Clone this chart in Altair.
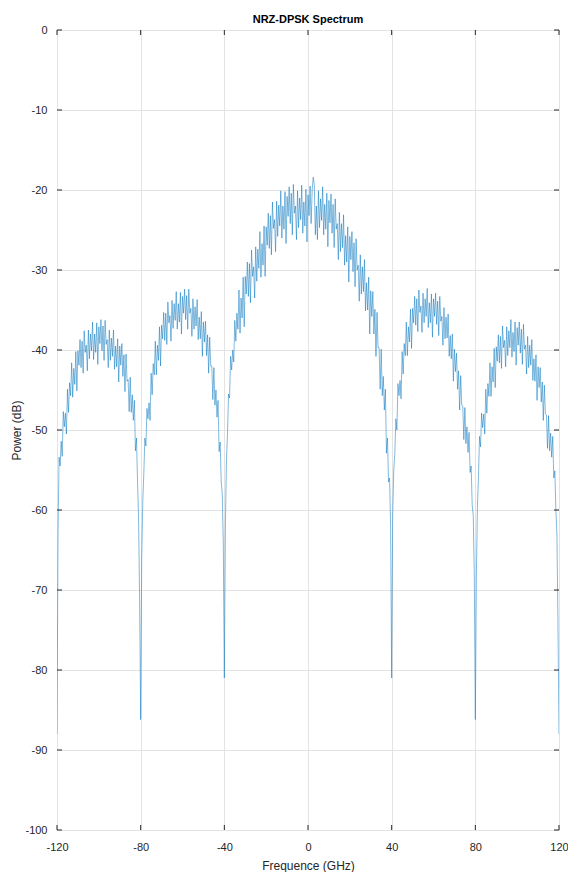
import altair as alt
import pandas as pd

# Power spectral density of an NRZ-DPSK signal, sampled every 0.5 GHz from -120 to 120 GHz.
freq_ghz = [(-240 + i) / 2 for i in range(481)]

# -120.0 ... -80.5 GHz (outer left sidelobe)
power_lobe_m2 = [
    -88.0, -62.5, -53.4, -54.5, -51.4, -53.3, -47.7, -49.6, -47.9, -50.5,
    -44.9, -47.8, -44.1, -45.7, -41.6, -45.9, -42.3, -44.3, -40.2, -45.1,
    -40.1, -41.9, -38.7, -42.2, -38.9, -42.9, -37.6, -40.3, -39.4, -42.6,
    -37.5, -41.1, -38.0, -40.1, -36.5, -41.2, -38.0, -40.3, -36.6, -41.8,
    -37.1, -39.2, -36.2, -40.1, -37.0, -41.3, -36.3, -39.3, -38.7, -42.2,
    -37.5, -41.3, -38.5, -40.8, -37.5, -42.4, -39.5, -42.1, -38.6, -44.0,
    -39.5, -41.9, -39.2, -43.3, -40.6, -45.2, -40.5, -43.9, -43.7, -47.7,
    -43.4, -47.8, -45.6, -48.8, -46.3, -52.6, -51.0, -56.4, -61.0, -71.0,
]
# -80.0 ... -40.5 GHz (first left sidelobe)
power_lobe_m1 = [
    -86.2, -66.0, -59.0, -55.5, -51.0, -52.0, -47.3, -48.6, -46.6, -48.8,
    -42.9, -45.6, -41.7, -43.1, -38.9, -43.1, -39.4, -41.3, -37.1, -42.0,
    -36.9, -38.6, -35.3, -38.8, -35.4, -39.3, -34.0, -36.6, -35.7, -38.9,
    -33.8, -37.3, -34.2, -36.3, -32.7, -37.4, -34.2, -36.5, -32.8, -38.0,
    -33.3, -35.4, -32.4, -36.2, -33.2, -37.4, -32.4, -35.4, -34.8, -38.3,
    -33.6, -37.4, -34.6, -37.0, -33.7, -38.7, -35.9, -38.6, -35.2, -40.8,
    -36.5, -39.0, -36.4, -40.7, -38.1, -42.9, -38.4, -42.0, -42.0, -46.2,
    -42.2, -46.9, -45.0, -48.4, -46.3, -52.7, -51.5, -56.4, -58.0, -64.0,
]
# -40.0 ... 39.5 GHz (main lobe)
power_main = [
    -81.0, -62.0, -54.0, -50.5, -45.5, -46.0, -40.8, -42.5, -40.0, -41.5,
    -36.3, -38.9, -35.4, -37.4, -32.5, -37.9, -33.5, -36.0, -30.9, -37.1,
    -30.8, -33.0, -29.0, -33.3, -29.2, -34.1, -27.5, -30.8, -29.6, -33.5,
    -27.1, -31.4, -27.4, -29.8, -25.2, -30.9, -26.7, -29.4, -24.5, -30.8,
    -24.6, -26.9, -22.9, -27.3, -23.2, -28.1, -21.5, -24.8, -23.7, -27.7,
    -21.4, -25.8, -21.9, -24.5, -20.1, -26.0, -22.0, -24.9, -20.2, -26.7,
    -20.8, -23.3, -19.6, -24.2, -20.4, -25.6, -19.3, -22.9, -22.0, -26.2,
    -20.1, -24.7, -21.0, -23.7, -19.4, -25.4, -21.5, -24.5, -19.9, -26.5,
    -20.6, -23.2, -19.5, -24.2, -20.0, -18.4, -19.3, -25.6, -22.0, -26.2,
    -20.1, -24.7, -21.1, -23.8, -19.6, -25.6, -21.8, -24.9, -20.4, -27.1,
    -21.3, -24.1, -20.5, -25.4, -21.8, -27.2, -21.1, -24.9, -24.2, -28.7,
    -22.8, -27.7, -24.2, -27.2, -23.1, -29.4, -25.7, -29.0, -24.6, -31.5,
    -25.8, -28.7, -25.2, -30.2, -26.6, -32.1, -26.1, -30.0, -29.4, -33.9,
    -28.1, -33.0, -29.6, -32.7, -28.7, -35.1, -31.6, -35.0, -30.9, -38.0,
    -32.6, -35.8, -32.7, -38.0, -34.9, -40.8, -35.3, -39.7, -39.7, -44.9,
    -39.9, -45.7, -43.3, -47.5, -44.9, -52.9, -51.0, -56.5, -56.0, -62.0,
]
# 40.0 ... 79.5 GHz (first right sidelobe)
power_lobe_p1 = [
    -81.0, -60.5, -55.0, -53.0, -48.6, -50.0, -44.2, -45.7, -43.8, -46.1,
    -40.2, -43.0, -39.2, -40.7, -36.5, -40.7, -37.1, -39.0, -34.9, -39.8,
    -34.8, -36.6, -33.3, -36.9, -33.6, -37.7, -32.5, -35.3, -34.5, -37.8,
    -32.9, -36.6, -33.6, -35.8, -32.3, -37.2, -34.1, -36.6, -33.0, -38.4,
    -33.6, -35.8, -32.9, -36.8, -33.9, -38.2, -33.3, -36.4, -35.8, -39.4,
    -34.7, -38.6, -35.9, -38.5, -35.5, -40.8, -38.2, -41.1, -38.0, -43.9,
    -39.9, -42.7, -40.4, -44.9, -42.6, -47.5, -43.2, -46.9, -47.0, -51.2,
    -47.2, -51.7, -49.6, -52.8, -50.3, -55.3, -54.5, -59.4, -60.7, -68.0,
]
# 80.0 ... 120.0 GHz (outer right sidelobe)
power_lobe_p2 = [
    -86.2, -68.0, -59.5, -55.8, -50.8, -52.1, -47.9, -49.7, -48.0, -50.5,
    -44.9, -47.9, -44.2, -45.8, -41.6, -45.8, -42.1, -44.0, -39.8, -44.7,
    -39.6, -41.4, -38.1, -41.6, -38.3, -42.3, -37.0, -39.7, -38.8, -42.1,
    -37.1, -40.7, -37.6, -39.7, -36.2, -40.9, -37.8, -40.2, -36.5, -41.9,
    -37.2, -39.4, -36.5, -40.4, -37.4, -41.8, -36.8, -39.9, -39.4, -43.0,
    -38.3, -42.2, -39.4, -41.9, -38.7, -43.8, -41.1, -43.9, -40.6, -46.3,
    -42.1, -44.7, -42.2, -46.5, -44.0, -48.8, -44.4, -48.0, -48.1, -52.3,
    -48.2, -52.6, -50.4, -53.4, -50.8, -56.0, -55.1, -60.0, -63.0, -74.0,
    -88.0,
]

x_ticks = [-120, -80, -40, 0, 40, 80, 120]
y_ticks = [-100, -90, -80, -70, -60, -50, -40, -30, -20, -10, 0]

power_db = power_lobe_m2 + power_lobe_m1 + power_main + power_lobe_p1 + power_lobe_p2
spectrum = pd.DataFrame({"f": freq_ghz, "p": power_db})

FONT = "Liberation Sans"
AXIS_GREY = "#262626"
PLOT_W, PLOT_H = 502, 800
TICK = 5

x_scale = alt.Scale(domain=[-120, 120], nice=False, zero=False)
y_scale = alt.Scale(domain=[-100, 0], nice=False, zero=False)

# plain hyphen-minus in tick labels
plain_label = "toString(datum.value)"

x_axis = alt.Axis(
    values=x_ticks, grid=True, gridColor="#e3e3e3", gridWidth=1,
    domain=False, ticks=False, labelPadding=11, labelFontSize=11,
    labelColor=AXIS_GREY, labelFont=FONT, labelFlush=False,
    labelExpr=plain_label, title="Frequence (GHz)",
    titleFont=FONT, titleFontSize=12, titleFontWeight="normal",
    titleColor=AXIS_GREY, titlePadding=8,
)
y_axis = alt.Axis(
    values=y_ticks, grid=True, gridColor="#e3e3e3", gridWidth=1,
    domain=False, ticks=False, labelPadding=10, labelFontSize=11,
    labelColor=AXIS_GREY, labelFont=FONT, labelFlush=False,
    labelExpr=plain_label, title="Power (dB)",
    titleFont=FONT, titleFontSize=12, titleFontWeight="normal",
    titleColor=AXIS_GREY, titlePadding=1,
)

trace = alt.Chart(spectrum).mark_line(
    color="#0072BD", strokeWidth=0.5, clip=True
).encode(
    x=alt.X("f:Q", scale=x_scale, axis=x_axis),
    y=alt.Y("p:Q", scale=y_scale, axis=y_axis),
)

xt = pd.DataFrame({"t": x_ticks})
yt = pd.DataFrame({"t": y_ticks})
tick_style = dict(color=AXIS_GREY, strokeWidth=1)

# Inward-pointing ticks on all four sides of the box
bottom_ticks = alt.Chart(xt).mark_rule(**tick_style).encode(
    x=alt.X("t:Q", scale=x_scale), y=alt.value(PLOT_H), y2=alt.value(PLOT_H - TICK)
)
top_ticks = alt.Chart(xt).mark_rule(**tick_style).encode(
    x=alt.X("t:Q", scale=x_scale), y=alt.value(0), y2=alt.value(TICK)
)
left_ticks = alt.Chart(yt).mark_rule(**tick_style).encode(
    y=alt.Y("t:Q", scale=y_scale), x=alt.value(0), x2=alt.value(TICK)
)
right_ticks = alt.Chart(yt).mark_rule(**tick_style).encode(
    y=alt.Y("t:Q", scale=y_scale), x=alt.value(PLOT_W), x2=alt.value(PLOT_W - TICK)
)

chart = alt.layer(
    trace, bottom_ticks, top_ticks, left_ticks, right_ticks
).properties(
    width=PLOT_W,
    height=PLOT_H,
    title=alt.TitleParams(
        "NRZ-DPSK Spectrum", font=FONT, fontSize=11, fontWeight="bold",
        color="#000000", anchor="middle", offset=5, dy=6,
    ),
    autosize=alt.AutoSizeParams(type="none"),
    padding={"left": 57, "top": 30, "right": 9, "bottom": 42},
).configure_view(
    stroke="#5a5a5a", strokeWidth=1
).configure(background="white")

chart.save("out.html", embed_options={"renderer": "svg", "actions": False})
